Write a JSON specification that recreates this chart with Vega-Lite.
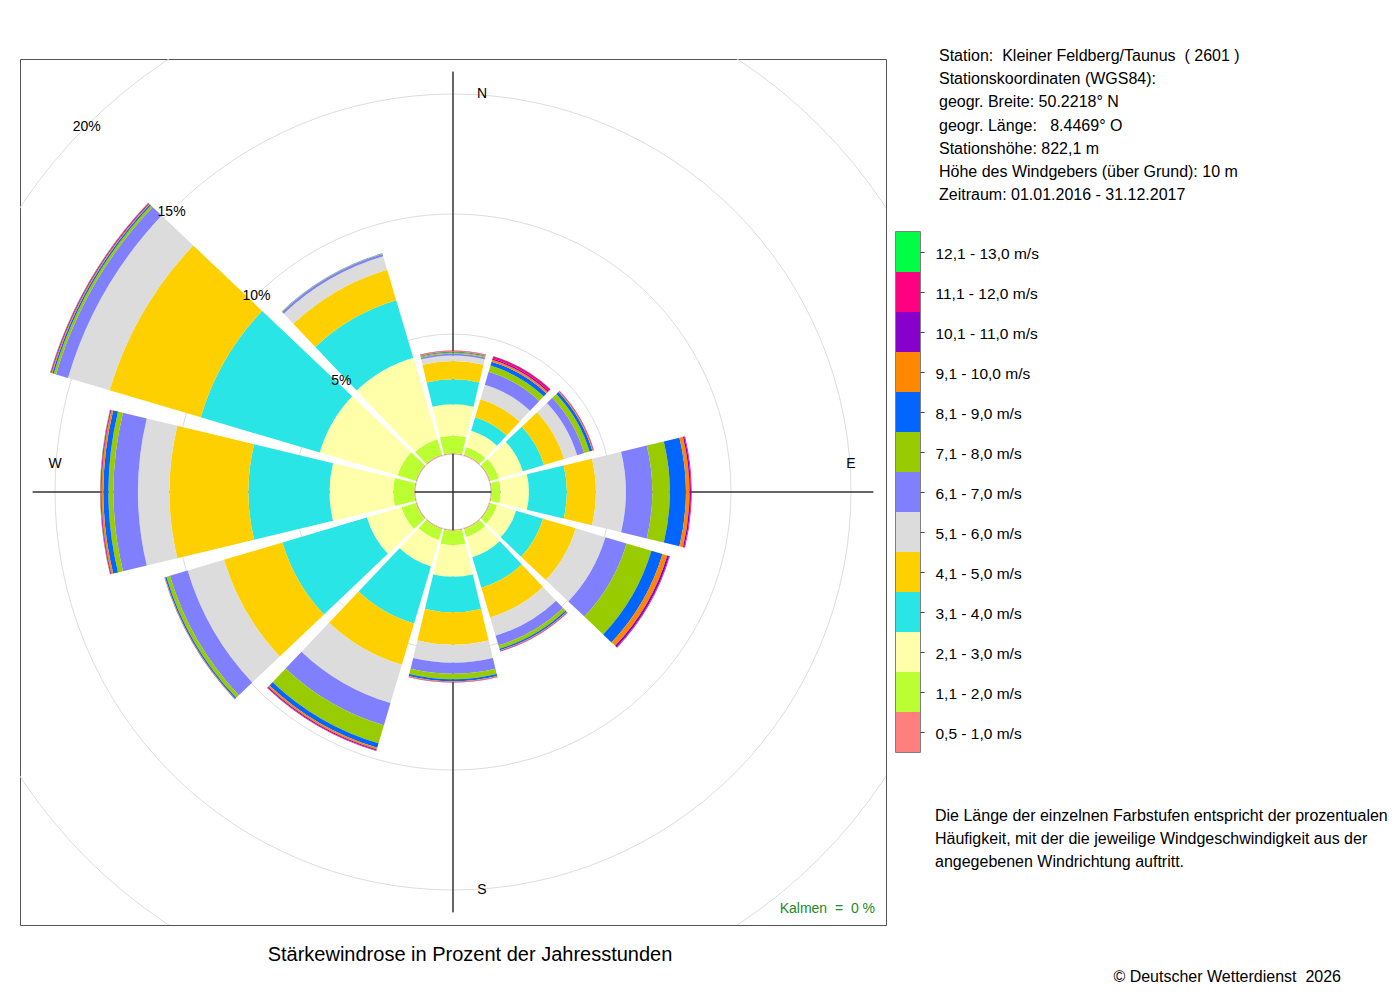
{
  "$schema": "https://vega.github.io/schema/vega-lite/v6.json",
  "background": "white",
  "padding": {"left": 19, "top": 48, "right": 0, "bottom": 0},
  "config": {
    "font": "Liberation Sans",
    "view": {"stroke": "#555555", "strokeWidth": 1},
    "title": {"fontWeight": "normal", "color": "black"}
  },
  "datasets": {
    "classes": [
      {"cls": "0,5 - 1,0 m/s", "k": 1},
      {"cls": "1,1 - 2,0 m/s", "k": 2},
      {"cls": "2,1 - 3,0 m/s", "k": 3},
      {"cls": "3,1 - 4,0 m/s", "k": 4},
      {"cls": "4,1 - 5,0 m/s", "k": 5},
      {"cls": "5,1 - 6,0 m/s", "k": 6},
      {"cls": "6,1 - 7,0 m/s", "k": 7},
      {"cls": "7,1 - 8,0 m/s", "k": 8},
      {"cls": "8,1 - 9,0 m/s", "k": 9},
      {"cls": "9,1 - 10,0 m/s", "k": 10},
      {"cls": "10,1 - 11,0 m/s", "k": 11},
      {"cls": "11,1 - 12,0 m/s", "k": 12},
      {"cls": "12,1 - 13,0 m/s", "k": 13}
    ],
    "wind": [
      {"dir": 0, "cls": "0,5 - 1,0 m/s", "pct": 0.03},
      {"dir": 0, "cls": "1,1 - 2,0 m/s", "pct": 0.73},
      {"dir": 0, "cls": "2,1 - 3,0 m/s", "pct": 1.31},
      {"dir": 0, "cls": "3,1 - 4,0 m/s", "pct": 1.04},
      {"dir": 0, "cls": "4,1 - 5,0 m/s", "pct": 0.76},
      {"dir": 0, "cls": "5,1 - 6,0 m/s", "pct": 0.23},
      {"dir": 0, "cls": "6,1 - 7,0 m/s", "pct": 0.08},
      {"dir": 0, "cls": "7,1 - 8,0 m/s", "pct": 0.05},
      {"dir": 0, "cls": "8,1 - 9,0 m/s", "pct": 0.03},
      {"dir": 0, "cls": "9,1 - 10,0 m/s", "pct": 0.03},
      {"dir": 0, "cls": "10,1 - 11,0 m/s", "pct": 0.01},
      {"dir": 0, "cls": "11,1 - 12,0 m/s", "pct": 0.01},

      {"dir": 30, "cls": "0,5 - 1,0 m/s", "pct": 0.03},
      {"dir": 30, "cls": "1,1 - 2,0 m/s", "pct": 0.34},
      {"dir": 30, "cls": "2,1 - 3,0 m/s", "pct": 0.71},
      {"dir": 30, "cls": "3,1 - 4,0 m/s", "pct": 0.58},
      {"dir": 30, "cls": "4,1 - 5,0 m/s", "pct": 0.79},
      {"dir": 30, "cls": "5,1 - 6,0 m/s", "pct": 0.63},
      {"dir": 30, "cls": "6,1 - 7,0 m/s", "pct": 0.56},
      {"dir": 30, "cls": "7,1 - 8,0 m/s", "pct": 0.27},
      {"dir": 30, "cls": "8,1 - 9,0 m/s", "pct": 0.17},
      {"dir": 30, "cls": "9,1 - 10,0 m/s", "pct": 0.08},
      {"dir": 30, "cls": "10,1 - 11,0 m/s", "pct": 0.06},
      {"dir": 30, "cls": "11,1 - 12,0 m/s", "pct": 0.10},
      {"dir": 30, "cls": "12,1 - 13,0 m/s", "pct": 0.01},

      {"dir": 60, "cls": "0,5 - 1,0 m/s", "pct": 0.03},
      {"dir": 60, "cls": "1,1 - 2,0 m/s", "pct": 0.38},
      {"dir": 60, "cls": "2,1 - 3,0 m/s", "pct": 1.04},
      {"dir": 60, "cls": "3,1 - 4,0 m/s", "pct": 0.92},
      {"dir": 60, "cls": "4,1 - 5,0 m/s", "pct": 0.88},
      {"dir": 60, "cls": "5,1 - 6,0 m/s", "pct": 0.56},
      {"dir": 60, "cls": "6,1 - 7,0 m/s", "pct": 0.31},
      {"dir": 60, "cls": "7,1 - 8,0 m/s", "pct": 0.23},
      {"dir": 60, "cls": "8,1 - 9,0 m/s", "pct": 0.12},
      {"dir": 60, "cls": "9,1 - 10,0 m/s", "pct": 0.04},
      {"dir": 60, "cls": "10,1 - 11,0 m/s", "pct": 0.02},
      {"dir": 60, "cls": "11,1 - 12,0 m/s", "pct": 0.01},

      {"dir": 90, "cls": "0,5 - 1,0 m/s", "pct": 0.03},
      {"dir": 90, "cls": "1,1 - 2,0 m/s", "pct": 0.37},
      {"dir": 90, "cls": "2,1 - 3,0 m/s", "pct": 1.18},
      {"dir": 90, "cls": "3,1 - 4,0 m/s", "pct": 1.58},
      {"dir": 90, "cls": "4,1 - 5,0 m/s", "pct": 1.21},
      {"dir": 90, "cls": "5,1 - 6,0 m/s", "pct": 1.25},
      {"dir": 90, "cls": "6,1 - 7,0 m/s", "pct": 1.10},
      {"dir": 90, "cls": "7,1 - 8,0 m/s", "pct": 0.73},
      {"dir": 90, "cls": "8,1 - 9,0 m/s", "pct": 0.67},
      {"dir": 90, "cls": "9,1 - 10,0 m/s", "pct": 0.15},
      {"dir": 90, "cls": "10,1 - 11,0 m/s", "pct": 0.06},
      {"dir": 90, "cls": "11,1 - 12,0 m/s", "pct": 0.03},

      {"dir": 120, "cls": "0,5 - 1,0 m/s", "pct": 0.03},
      {"dir": 120, "cls": "1,1 - 2,0 m/s", "pct": 0.30},
      {"dir": 120, "cls": "2,1 - 3,0 m/s", "pct": 0.83},
      {"dir": 120, "cls": "3,1 - 4,0 m/s", "pct": 1.17},
      {"dir": 120, "cls": "4,1 - 5,0 m/s", "pct": 1.42},
      {"dir": 120, "cls": "5,1 - 6,0 m/s", "pct": 1.29},
      {"dir": 120, "cls": "6,1 - 7,0 m/s", "pct": 0.92},
      {"dir": 120, "cls": "7,1 - 8,0 m/s", "pct": 1.08},
      {"dir": 120, "cls": "8,1 - 9,0 m/s", "pct": 0.48},
      {"dir": 120, "cls": "9,1 - 10,0 m/s", "pct": 0.21},
      {"dir": 120, "cls": "10,1 - 11,0 m/s", "pct": 0.08},
      {"dir": 120, "cls": "11,1 - 12,0 m/s", "pct": 0.03},
      {"dir": 120, "cls": "12,1 - 13,0 m/s", "pct": 0.01},

      {"dir": 150, "cls": "0,5 - 1,0 m/s", "pct": 0.03},
      {"dir": 150, "cls": "1,1 - 2,0 m/s", "pct": 0.34},
      {"dir": 150, "cls": "2,1 - 3,0 m/s", "pct": 0.88},
      {"dir": 150, "cls": "3,1 - 4,0 m/s", "pct": 1.33},
      {"dir": 150, "cls": "4,1 - 5,0 m/s", "pct": 1.29},
      {"dir": 150, "cls": "5,1 - 6,0 m/s", "pct": 0.79},
      {"dir": 150, "cls": "6,1 - 7,0 m/s", "pct": 0.42},
      {"dir": 150, "cls": "7,1 - 8,0 m/s", "pct": 0.15},
      {"dir": 150, "cls": "8,1 - 9,0 m/s", "pct": 0.06},
      {"dir": 150, "cls": "9,1 - 10,0 m/s", "pct": 0.03},
      {"dir": 150, "cls": "10,1 - 11,0 m/s", "pct": 0.02},
      {"dir": 150, "cls": "11,1 - 12,0 m/s", "pct": 0.01},

      {"dir": 180, "cls": "0,5 - 1,0 m/s", "pct": 0.03},
      {"dir": 180, "cls": "1,1 - 2,0 m/s", "pct": 0.60},
      {"dir": 180, "cls": "2,1 - 3,0 m/s", "pct": 1.32},
      {"dir": 180, "cls": "3,1 - 4,0 m/s", "pct": 1.48},
      {"dir": 180, "cls": "4,1 - 5,0 m/s", "pct": 1.35},
      {"dir": 180, "cls": "5,1 - 6,0 m/s", "pct": 0.75},
      {"dir": 180, "cls": "6,1 - 7,0 m/s", "pct": 0.46},
      {"dir": 180, "cls": "7,1 - 8,0 m/s", "pct": 0.23},
      {"dir": 180, "cls": "8,1 - 9,0 m/s", "pct": 0.08},
      {"dir": 180, "cls": "9,1 - 10,0 m/s", "pct": 0.03},
      {"dir": 180, "cls": "10,1 - 11,0 m/s", "pct": 0.01},
      {"dir": 180, "cls": "11,1 - 12,0 m/s", "pct": 0.01},

      {"dir": 210, "cls": "0,5 - 1,0 m/s", "pct": 0.03},
      {"dir": 210, "cls": "1,1 - 2,0 m/s", "pct": 0.47},
      {"dir": 210, "cls": "2,1 - 3,0 m/s", "pct": 1.15},
      {"dir": 210, "cls": "3,1 - 4,0 m/s", "pct": 2.48},
      {"dir": 210, "cls": "4,1 - 5,0 m/s", "pct": 1.79},
      {"dir": 210, "cls": "5,1 - 6,0 m/s", "pct": 1.67},
      {"dir": 210, "cls": "6,1 - 7,0 m/s", "pct": 0.96},
      {"dir": 210, "cls": "7,1 - 8,0 m/s", "pct": 0.79},
      {"dir": 210, "cls": "8,1 - 9,0 m/s", "pct": 0.19},
      {"dir": 210, "cls": "9,1 - 10,0 m/s", "pct": 0.08},
      {"dir": 210, "cls": "10,1 - 11,0 m/s", "pct": 0.04},
      {"dir": 210, "cls": "11,1 - 12,0 m/s", "pct": 0.02},
      {"dir": 210, "cls": "12,1 - 13,0 m/s", "pct": 0.01},

      {"dir": 240, "cls": "0,5 - 1,0 m/s", "pct": 0.03},
      {"dir": 240, "cls": "1,1 - 2,0 m/s", "pct": 0.63},
      {"dir": 240, "cls": "2,1 - 3,0 m/s", "pct": 1.50},
      {"dir": 240, "cls": "3,1 - 4,0 m/s", "pct": 3.67},
      {"dir": 240, "cls": "4,1 - 5,0 m/s", "pct": 2.54},
      {"dir": 240, "cls": "5,1 - 6,0 m/s", "pct": 1.58},
      {"dir": 240, "cls": "6,1 - 7,0 m/s", "pct": 0.77},
      {"dir": 240, "cls": "7,1 - 8,0 m/s", "pct": 0.15},
      {"dir": 240, "cls": "8,1 - 9,0 m/s", "pct": 0.06},
      {"dir": 240, "cls": "9,1 - 10,0 m/s", "pct": 0.02},
      {"dir": 240, "cls": "10,1 - 11,0 m/s", "pct": 0.01},

      {"dir": 270, "cls": "0,5 - 1,0 m/s", "pct": 0.03},
      {"dir": 270, "cls": "1,1 - 2,0 m/s", "pct": 0.88},
      {"dir": 270, "cls": "2,1 - 3,0 m/s", "pct": 2.65},
      {"dir": 270, "cls": "3,1 - 4,0 m/s", "pct": 3.38},
      {"dir": 270, "cls": "4,1 - 5,0 m/s", "pct": 3.29},
      {"dir": 270, "cls": "5,1 - 6,0 m/s", "pct": 1.31},
      {"dir": 270, "cls": "6,1 - 7,0 m/s", "pct": 1.02},
      {"dir": 270, "cls": "7,1 - 8,0 m/s", "pct": 0.21},
      {"dir": 270, "cls": "8,1 - 9,0 m/s", "pct": 0.21},
      {"dir": 270, "cls": "9,1 - 10,0 m/s", "pct": 0.08},
      {"dir": 270, "cls": "10,1 - 11,0 m/s", "pct": 0.03},
      {"dir": 270, "cls": "11,1 - 12,0 m/s", "pct": 0.02},
      {"dir": 270, "cls": "12,1 - 13,0 m/s", "pct": 0.01},

      {"dir": 300, "cls": "0,5 - 1,0 m/s", "pct": 0.03},
      {"dir": 300, "cls": "1,1 - 2,0 m/s", "pct": 0.80},
      {"dir": 300, "cls": "2,1 - 3,0 m/s", "pct": 3.38},
      {"dir": 300, "cls": "3,1 - 4,0 m/s", "pct": 5.17},
      {"dir": 300, "cls": "4,1 - 5,0 m/s", "pct": 3.96},
      {"dir": 300, "cls": "5,1 - 6,0 m/s", "pct": 1.81},
      {"dir": 300, "cls": "6,1 - 7,0 m/s", "pct": 0.52},
      {"dir": 300, "cls": "7,1 - 8,0 m/s", "pct": 0.10},
      {"dir": 300, "cls": "8,1 - 9,0 m/s", "pct": 0.06},
      {"dir": 300, "cls": "9,1 - 10,0 m/s", "pct": 0.04},
      {"dir": 300, "cls": "10,1 - 11,0 m/s", "pct": 0.03},
      {"dir": 300, "cls": "11,1 - 12,0 m/s", "pct": 0.02},
      {"dir": 300, "cls": "12,1 - 13,0 m/s", "pct": 0.01},

      {"dir": 330, "cls": "0,5 - 1,0 m/s", "pct": 0.03},
      {"dir": 330, "cls": "1,1 - 2,0 m/s", "pct": 0.68},
      {"dir": 330, "cls": "2,1 - 3,0 m/s", "pct": 3.54},
      {"dir": 330, "cls": "3,1 - 4,0 m/s", "pct": 2.50},
      {"dir": 330, "cls": "4,1 - 5,0 m/s", "pct": 1.33},
      {"dir": 330, "cls": "5,1 - 6,0 m/s", "pct": 0.58},
      {"dir": 330, "cls": "6,1 - 7,0 m/s", "pct": 0.10},
      {"dir": 330, "cls": "7,1 - 8,0 m/s", "pct": 0.02},
      {"dir": 330, "cls": "8,1 - 9,0 m/s", "pct": 0.01}
    ],
    "rings": [
      {"ring": 5, "label": "5%"},
      {"ring": 10, "label": "10%"},
      {"ring": 15, "label": "15%"},
      {"ring": 20, "label": "20%"}
    ],
    "compass": [
      {"dir": 0, "label": "N"},
      {"dir": 90, "label": "E"},
      {"dir": 180, "label": "S"},
      {"dir": 270, "label": "W"}
    ],
    "calm": [
      {"calm": 0, "label": "Kalmen\u00a0 =\u00a0 0 %"}
    ],
    "info": [
      {"line": 1, "text": "Station:\u00a0 Kleiner Feldberg/Taunus\u00a0 ( 2601 )"},
      {"line": 2, "text": "Stationskoordinaten (WGS84):"},
      {"line": 3, "text": "geogr. Breite: 50.2218° N"},
      {"line": 4, "text": "geogr. Länge:\u00a0\u00a0 8.4469° O"},
      {"line": 5, "text": "Stationshöhe: 822,1 m"},
      {"line": 6, "text": "Höhe des Windgebers (über Grund): 10 m"},
      {"line": 7, "text": "Zeitraum: 01.01.2016 - 31.12.2017"}
    ],
    "notes": [
      {"line": 1, "part": "expl", "text": "Die Länge der einzelnen Farbstufen entspricht der prozentualen"},
      {"line": 2, "part": "expl", "text": "Häufigkeit, mit der die jeweilige Windgeschwindigkeit aus der"},
      {"line": 3, "part": "expl", "text": "angegebenen Windrichtung auftritt."},
      {"line": 8, "part": "copy", "text": "© Deutscher Wetterdienst\u00a0 2026"}
    ]
  },
  "hconcat": [
    {
      "width": 866,
      "height": 866,
      "view": {"stroke": "#555555", "strokeWidth": 1},
      "title": {
        "text": "Stärkewindrose in Prozent der Jahresstunden",
        "orient": "bottom",
        "anchor": "middle",
        "frame": "group",
        "dx": 17,
        "offset": 20,
        "fontSize": 20,
        "fontWeight": "normal",
        "color": "black"
      },
      "layer": [
        {
          "data": {"name": "rings"},
          "mark": {"type": "arc", "filled": false, "stroke": "#DDDDDD", "strokeWidth": 1, "clip": true},
          "encoding": {
            "theta": {"datum": 0, "type": "quantitative", "scale": {"type": "linear", "domain": [0, 360], "range": [0, 6.283185307179586], "nice": false, "zero": false}},
            "theta2": {"datum": 360},
            "radius": {"field": "ring", "type": "quantitative", "stack": null, "scale": {"type": "linear", "domain": [0, 20], "range": [38, 518], "nice": false, "zero": false}}
          }
        },
        {
          "data": {"name": "wind"},
          "transform": [
            {"aggregate": [{"op": "sum", "field": "pct", "as": "total"}], "groupby": ["dir"]},
            {"joinaggregate": [{"op": "max", "field": "total", "as": "maxTotal"}]},
            {"filter": "datum.dir % 90 === 0"}
          ],
          "mark": {"type": "arc", "filled": false, "stroke": "#333333", "strokeWidth": 1},
          "encoding": {
            "theta": {"field": "dir", "type": "quantitative", "scale": {"type": "linear", "domain": [0, 360], "range": [0, 6.283185307179586], "nice": false, "zero": false}},
            "theta2": {"field": "dir"},
            "radius": {"field": "maxTotal", "type": "quantitative", "stack": null, "scale": {"type": "linear", "domain": [0, 20], "range": [38, 518], "nice": false, "zero": false}},
            "radius2": {"value": 0}
          }
        },
        {
          "data": {"name": "wind"},
          "transform": [
            {"lookup": "cls", "from": {"data": {"name": "classes"}, "key": "cls", "fields": ["k"]}},
            {"stack": "pct", "groupby": ["dir"], "sort": [{"field": "k", "order": "ascending"}], "as": ["r0", "r1"]},
            {"calculate": "datum.dir - 13.5", "as": "t0"},
            {"calculate": "datum.dir + 13.5", "as": "t1"}
          ],
          "mark": {"type": "arc"},
          "encoding": {
            "theta": {"field": "t0", "type": "quantitative", "scale": {"type": "linear", "domain": [0, 360], "range": [0, 6.283185307179586], "nice": false, "zero": false}},
            "theta2": {"field": "t1"},
            "radius": {"field": "r1", "type": "quantitative", "stack": null, "scale": {"type": "linear", "domain": [0, 20], "range": [38, 518], "nice": false, "zero": false}},
            "radius2": {"field": "r0"},
            "color": {
              "field": "cls",
              "type": "nominal",
              "scale": {
                "domain": ["0,5 - 1,0 m/s", "1,1 - 2,0 m/s", "2,1 - 3,0 m/s", "3,1 - 4,0 m/s", "4,1 - 5,0 m/s", "5,1 - 6,0 m/s", "6,1 - 7,0 m/s", "7,1 - 8,0 m/s", "8,1 - 9,0 m/s", "9,1 - 10,0 m/s", "10,1 - 11,0 m/s", "11,1 - 12,0 m/s", "12,1 - 13,0 m/s"],
                "range": ["#FF7F7F", "#BBFF33", "#FFFFAA", "#2AE5E5", "#FFD000", "#DCDCDC", "#8080FF", "#99CC00", "#0066FF", "#FF8800", "#8800CC", "#FF0080", "#00FF44"]
              },
              "legend": null
            }
          }
        },
        {
          "data": {"name": "rings"},
          "mark": {"type": "text", "fontSize": 14, "color": "black", "align": "center", "baseline": "middle", "dy": 1},
          "encoding": {
            "theta": {"datum": 315, "type": "quantitative", "scale": {"type": "linear", "domain": [0, 360], "range": [0, 6.283185307179586], "nice": false, "zero": false}},
            "radius": {"field": "ring", "type": "quantitative", "stack": null, "scale": {"type": "linear", "domain": [0, 20], "range": [38, 518], "nice": false, "zero": false}},
            "text": {"field": "label"}
          }
        },
        {
          "data": {"name": "compass"},
          "transform": [{"filter": "datum.dir % 180 === 0"}],
          "mark": {"type": "text", "fontSize": 14, "color": "black", "align": "center", "baseline": "middle", "dx": 29},
          "encoding": {
            "theta": {"field": "dir", "type": "quantitative", "scale": {"type": "linear", "domain": [0, 360], "range": [0, 6.283185307179586], "nice": false, "zero": false}},
            "radius": {"datum": 15, "type": "quantitative", "scale": {"type": "linear", "domain": [0, 20], "range": [38, 518], "nice": false, "zero": false}},
            "text": {"field": "label"}
          }
        },
        {
          "data": {"name": "compass"},
          "transform": [{"filter": "datum.dir % 180 === 90"}],
          "mark": {"type": "text", "fontSize": 14, "color": "black", "align": "center", "baseline": "middle", "dy": -28},
          "encoding": {
            "theta": {"field": "dir", "type": "quantitative", "scale": {"type": "linear", "domain": [0, 360], "range": [0, 6.283185307179586], "nice": false, "zero": false}},
            "radius": {"datum": 15, "type": "quantitative", "scale": {"type": "linear", "domain": [0, 20], "range": [38, 518], "nice": false, "zero": false}},
            "text": {"field": "label"}
          }
        },
        {
          "data": {"name": "calm"},
          "mark": {"type": "text", "fontSize": 14, "color": "#228B22", "align": "right", "baseline": "middle", "dx": 422, "dy": 417},
          "encoding": {
            "text": {"field": "label"}
          }
        }
      ]
    },
    {
      "vconcat": [
        {
          "width": 24,
          "height": 139,
          "view": {"stroke": null},
          "data": {"name": "info"},
          "mark": {"type": "text", "align": "left", "baseline": "middle", "fontSize": 16, "color": "black", "dx": 31, "dy": -3},
          "encoding": {
            "y": {"field": "line", "type": "quantitative", "scale": {"domain": [1, 7], "reverse": true, "nice": false, "zero": false}, "axis": null},
            "text": {"field": "text"}
          }
        },
        {
          "width": 24,
          "height": 520,
          "view": {"stroke": "#555555", "strokeWidth": 1.5},
          "resolve": {"scale": {"y": "independent"}, "axis": {"y": "independent"}},
          "layer": [
            {
              "data": {"name": "classes"},
              "mark": {"type": "rect"},
              "encoding": {
                "y": {
                  "field": "cls",
                  "type": "nominal",
                  "sort": {"field": "k", "op": "max", "order": "descending"},
                  "scale": {"paddingInner": 0, "paddingOuter": 0},
                  "axis": {
                    "orient": "right",
                    "title": null,
                    "domain": false,
                    "grid": false,
                    "ticks": true,
                    "tickSize": 4,
                    "tickColor": "#444444",
                    "tickWidth": 1,
                    "labelPadding": 11,
                    "labelFontSize": 15.5,
                    "labelColor": "black",
                    "labelFont": "Liberation Sans",
                    "labelOffset": 2
                  }
                },
                "color": {
                  "field": "cls",
                  "type": "nominal",
                  "scale": {
                    "domain": ["0,5 - 1,0 m/s", "1,1 - 2,0 m/s", "2,1 - 3,0 m/s", "3,1 - 4,0 m/s", "4,1 - 5,0 m/s", "5,1 - 6,0 m/s", "6,1 - 7,0 m/s", "7,1 - 8,0 m/s", "8,1 - 9,0 m/s", "9,1 - 10,0 m/s", "10,1 - 11,0 m/s", "11,1 - 12,0 m/s", "12,1 - 13,0 m/s"],
                    "range": ["#FF7F7F", "#BBFF33", "#FFFFAA", "#2AE5E5", "#FFD000", "#DCDCDC", "#8080FF", "#99CC00", "#0066FF", "#FF8800", "#8800CC", "#FF0080", "#00FF44"]
                  },
                  "legend": null
                }
              }
            },
            {
              "data": {"name": "notes"},
              "transform": [{"filter": "datum.part === 'expl'"}],
              "mark": {"type": "text", "align": "left", "baseline": "middle", "fontSize": 16, "color": "black", "dx": 27},
              "encoding": {
                "y": {"field": "line", "type": "quantitative", "scale": {"domain": [1, 3], "range": [584, 630], "nice": false, "zero": false}, "axis": null},
                "text": {"field": "text"}
              }
            },
            {
              "data": {"name": "notes"},
              "transform": [{"filter": "datum.part === 'copy'"}],
              "mark": {"type": "text", "align": "right", "baseline": "middle", "fontSize": 16, "color": "black", "dx": 433},
              "encoding": {
                "y": {"field": "line", "type": "quantitative", "scale": {"domain": [1, 3], "range": [584, 630], "nice": false, "zero": false}, "axis": null},
                "text": {"field": "text"}
              }
            }
          ]
        }
      ],
      "spacing": 34,
      "bounds": "flush"
    }
  ],
  "spacing": 10,
  "bounds": "flush"
}
